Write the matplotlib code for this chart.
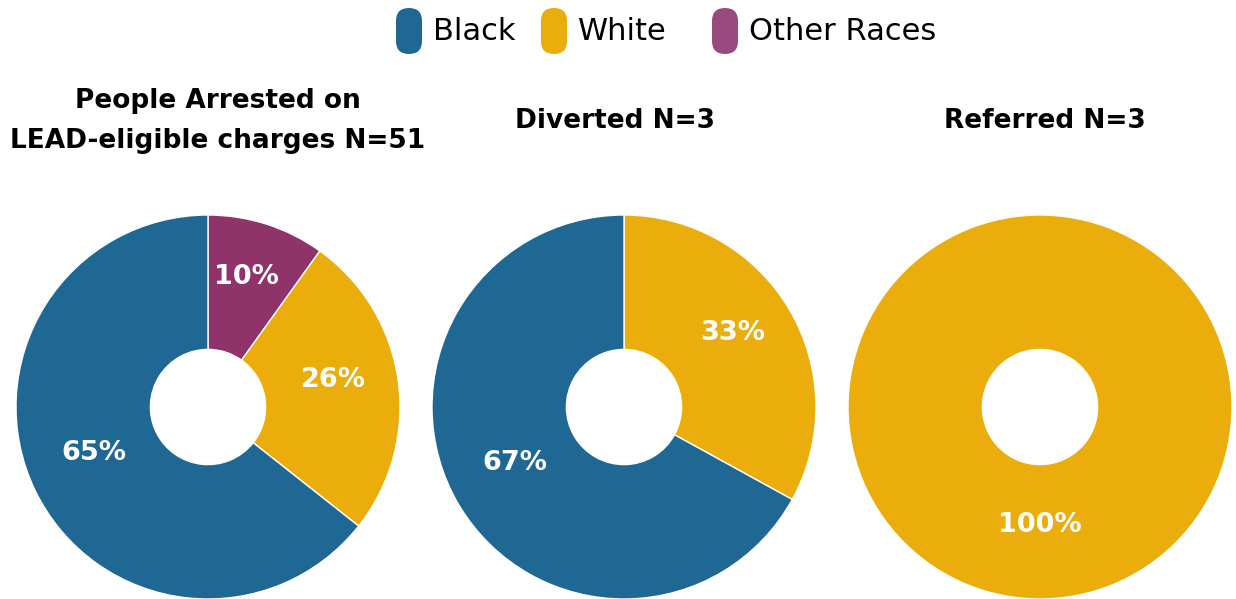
import matplotlib.pyplot as plt
from matplotlib.patches import FancyBboxPatch

# Data
groups = ["Black", "White", "Other Races"]
colors = {"Black": "#1f6893", "White": "#ebad0b", "Other Races": "#8f336a"}
legend_colors = {"Black": "#1f6893", "White": "#ebad0b", "Other Races": "#984a7e"}

titles = ["People Arrested on\nLEAD-eligible charges N=51", "Diverted N=3", "Referred N=3"]
# slices listed clockwise from 12 o'clock
pie_labels = [["Other Races", "White", "Black"], ["White", "Black"], ["White"]]
pie_values = [[10, 26, 65], [33, 67], [100]]

fig = plt.figure(figsize=(12.36, 5.99), dpi=100)
W, H = 1236, 599

centers_x = [208, 624, 1040]
cy, r = 407, 192
title_y = [121, 121, 121]
title_x = [218, 615, 1045]

for i in range(3):
    cx = centers_x[i]
    ax = fig.add_axes([(cx - r) / W, (H - cy - r) / H, 2 * r / W, 2 * r / H])
    vals = iter(pie_values[i])
    wedges, _, autotexts = ax.pie(
        pie_values[i],
        colors=[colors[g] for g in pie_labels[i]],
        startangle=90,
        counterclock=False,
        radius=1,
        autopct=lambda p, v=vals: f"{next(v)}%",
        pctdistance=0.66,
        wedgeprops=dict(width=0.70, edgecolor="white", linewidth=1),
        textprops=dict(color="white", fontsize=19.5, fontweight="bold", family="DejaVu Sans"),
    )
    # nudge labels up a little to match the original placement
    for t in autotexts:
        x, y = t.get_position()
        t.set_position((x, y + 9 / r))
    ax.set_xlim(-1, 1)
    ax.set_ylim(-1, 1)
    ax.set_aspect("equal")
    ax.axis("off")
    fig.text(title_x[i] / W, 1 - title_y[i] / H, titles[i], ha="center", va="center",
             fontsize=19, fontweight="bold", family="DejaVu Sans", linespacing=1.68)

# Legend with rounded pill markers
overlay = fig.add_axes([0, 0, 1, 1], zorder=-1)
overlay.set_xlim(0, W)
overlay.set_ylim(H, 0)
overlay.axis("off")
pill_x = [396, 541, 712]
for g, px in zip(groups, pill_x):
    overlay.add_patch(FancyBboxPatch((px + 13 - 0.01, 8 + 13), 0.02, 46 - 26,
                                     boxstyle="round,pad=13", color=legend_colors[g], ec="none"))
    overlay.text(px + 37, 31, g, fontsize=22, va="center", ha="left", color="black")

fig.savefig("out.png", dpi=100)
